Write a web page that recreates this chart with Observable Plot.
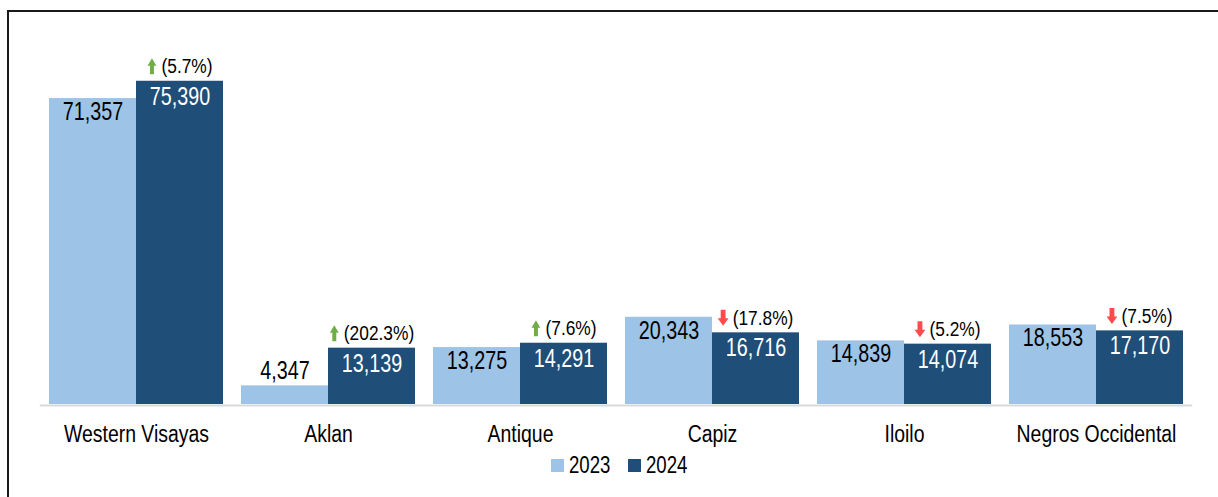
<!DOCTYPE html>
<html><head><meta charset="utf-8">
<script src="https://cdn.jsdelivr.net/npm/d3@7"></script>
<script src="https://cdn.jsdelivr.net/npm/@observablehq/plot@0.6"></script>
<style>
html,body{margin:0;padding:0;background:#fff;overflow:hidden;width:1218px;height:497px;}
#chart{position:absolute;left:0;top:0;}
#frame{position:absolute;left:7px;top:10px;width:1400px;height:700px;border-top:2px solid #1a1a1a;border-left:2px solid #1a1a1a;pointer-events:none;}
#legend{position:absolute;left:551px;top:454px;display:flex;align-items:center;font-family:"Liberation Sans",Arial,sans-serif;font-size:23px;color:#000;}
.sw{width:13px;height:13px;margin-right:5px;}
.lab{width:42px;margin-right:17px;white-space:nowrap;line-height:23px;}
.lab span{display:inline-block;transform:scaleX(0.81);transform-origin:0 50%;}
</style></head><body>
<div id="chart"></div><div id="legend"></div><div id="frame"></div>
<script>
// ---- data ----
const regions = ["Western Visayas", "Aklan", "Antique", "Capiz", "Iloilo", "Negros Occidental"];
const years = ["2023", "2024"];
const values2023 = [71357, 4347, 13275, 20343, 14839, 18553];
const values2024 = [75390, 13139, 14291, 16716, 14074, 17170];
const changeLabels = ["(5.7%)", "(202.3%)", "(7.6%)", "(17.8%)", "(5.2%)", "(7.5%)"];

// ---- styles ----
const yearColors = ["#9DC3E6", "#1F4E79"];
const upColor = "#6FAE45";
const downColor = "#FF4B4B";
const pctFont = 19.5, pctScale = 0.89;
const valFont = 25, valScale = 0.79;
const catFont = 24, catScale = 0.81;

const bars = regions.flatMap((r, i) => [
  {region: r, year: years[0], value: values2023[i]},
  {region: r, year: years[1], value: values2024[i]}
]);
const changes = regions.map((r, i) => ({
  region: r, year: years[1], value: values2024[i], label: changeLabels[i],
  up: values2024[i] >= values2023[i]
}));

const fmt = d3.format(",");
const cw = {"(": 0.333, ")": 0.333, ".": 0.278, "%": 0.889};
const textWidth = s => [...s].reduce((a, c) => a + (cw[c] ?? 0.556), 0) * pctFont * pctScale;

const arrowShape = {
  draw(context, l, r) {
    const hw = r, sw = r * 0.45, hh = 7.5;
    context.moveTo(-sw, 0);
    context.lineTo(-sw, -l + hh);
    context.lineTo(-hw, -l + hh);
    context.lineTo(0, -l);
    context.lineTo(hw, -l + hh);
    context.lineTo(sw, -l + hh);
    context.lineTo(sw, 0);
    context.closePath();
  }
};

const fits = d => d.value >= 8000;

const plot = Plot.plot({
  width: 1218,
  height: 452,
  marginTop: 61,
  marginBottom: 48,
  marginLeft: 38,
  marginRight: 24,
  style: {fontFamily: "'Liberation Sans', Arial, sans-serif", color: "#000", background: "transparent"},
  fx: {domain: regions, paddingInner: 0.092, paddingOuter: 0.047, label: null},
  x: {domain: years, padding: 0, axis: null},
  y: {domain: [0, 80000], axis: null},
  color: {domain: years, range: yearColors},
  marks: [
    Plot.ruleY([0], {stroke: "#d9d9d9", strokeWidth: 2, insetLeft: -9.2, insetRight: -9.2, dy: 1}),
    Plot.barY(bars, {fx: "region", x: "year", y: "value", fill: "year"}),
    Plot.text(bars.filter(d => d.year === years[0] && fits(d)), {
      fx: "region", x: "year", y: "value", text: d => fmt(d.value),
      dy: 13.5, fill: "#000", fontSize: valFont
    }),
    Plot.text(bars.filter(d => d.year === years[1] && fits(d)), {
      fx: "region", x: "year", y: "value", text: d => fmt(d.value),
      dy: 15.5, fill: "#fff", fontSize: valFont
    }),
    Plot.text(bars.filter(d => !fits(d)), {
      fx: "region", x: "year", y: "value", text: d => fmt(d.value),
      dy: -15, fill: "#000", fontSize: valFont
    }),
    Plot.text(changes, {
      fx: "region", x: "year", y: "value", text: "label",
      dx: 7, dy: -14.5, fill: "#000", fontSize: pctFont
    }),
    ...changes.map(d => Plot.vector([d], {
      fx: "region", x: "year", y: "value",
      length: 16, r: d.up ? 4.4 : 5.4, rotate: d.up ? 0 : 180,
      shape: arrowShape, fill: d.up ? upColor : downColor, stroke: "none",
      dx: -(textWidth(d.label) + 5) / 2, dy: -15
    })),
    Plot.axisFx({anchor: "bottom", tickSize: 0, tickPadding: 20, fontSize: catFont, label: null, fill: "#000"})
  ]
});

// narrow the Arial-metric glyphs to match the condensed look of the reference
plot.querySelectorAll("text").forEach(t => {
  const holder = t.closest("[font-size]");
  const fs = holder ? parseFloat(holder.getAttribute("font-size")) : 10;
  const s = fs === pctFont ? pctScale : fs === catFont ? catScale : valScale;
  const xa = t.getAttribute("x");
  const x = xa != null && !isNaN(+xa) ? +xa : 0;
  if (x) t.removeAttribute("x");
  const tr = t.getAttribute("transform") || "";
  t.setAttribute("transform", `${tr} translate(${x},0) scale(${s},1)`);
});
document.getElementById("chart").append(plot);

// legend
const legend = document.getElementById("legend");
years.forEach((y, i) => {
  const sw = document.createElement("span");
  sw.className = "sw"; sw.style.background = yearColors[i];
  const lab = document.createElement("span");
  lab.className = "lab";
  const inner = document.createElement("span");
  inner.textContent = y;
  lab.append(inner);
  legend.append(sw, lab);
});
</script>
</body></html>
